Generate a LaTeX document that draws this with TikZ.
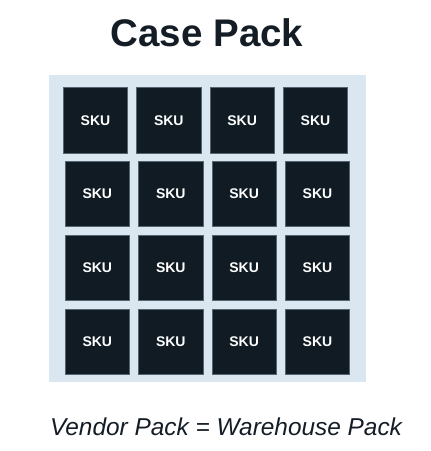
\documentclass[tikz,border=0pt]{standalone}
\usepackage{fontspec}
\setmainfont{Liberation Sans}
\usetikzlibrary{positioning}
\definecolor{caseInk}{RGB}{20,29,38}
\definecolor{caseBlue}{RGB}{218,231,240}
\definecolor{skuDark}{RGB}{16,27,35}
\definecolor{skuEdge}{RGB}{84,100,114}
\tikzset{
  skubox/.style={draw=skuEdge,line width=0.6pt,fill=skuDark,minimum width=64.5pt,minimum height=65.5pt,inner sep=0pt,text=white,font=\fontsize{14}{16}\selectfont\bfseries},
}

\begin{document}
\begin{tikzpicture}[x=1pt,y=-1pt]
        \useasboundingbox (0,0) rectangle (431,451);
        \node[font=\fontsize{38.5}{40}\selectfont\bfseries,text=caseInk] (title) at (207,33) {Case Pack};
        \node[fill=caseBlue,minimum width=316.5pt,minimum height=307pt,inner sep=0pt] (case) at (207.3,228.5) {};
        % first row sits a little to the left
        \foreach [count=\i] \x in {95.5,168.8,242.1,315.5} {
          \node[skubox] (sku-1-\i) at (\x,120.2) {SKU};
        }
        \foreach [count=\j from 2] \y in {194,268,341.7} {
          \foreach [count=\i] \x in {97.3,170.8,244.1,317.5} {
            \node[skubox] (sku-\j-\i) at (\x,\y) {SKU};
          }
        }
        \node[font=\fontsize{24.4}{26}\selectfont\itshape,text=caseInk] (caption) at (226,427) {Vendor Pack = Warehouse Pack};
      \end{tikzpicture}
\end{document}
